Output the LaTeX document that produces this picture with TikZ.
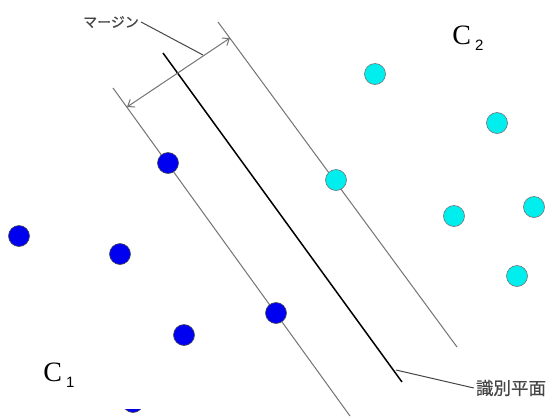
\documentclass[tikz,border=0pt]{standalone}
\usepackage{fontspec}
\setmainfont{Liberation Serif}
\newfontfamily\jpfont[FakeBold=0.6]{Noto Sans CJK JP}
\newfontfamily\subsans{Liberation Sans}
\usetikzlibrary{arrows.meta}
\definecolor{dotblue}{RGB}{0,0,240}
\definecolor{dotcyan}{RGB}{0,238,238}
\definecolor{linegray}{RGB}{115,115,115}
\definecolor{textgray}{RGB}{70,70,70}
\begin{document}
\begin{tikzpicture}[x=1pt,y=-1pt,
  bluedot/.style={circle,fill=dotblue,draw=black!70,line width=0.6pt,minimum size=21pt,inner sep=0pt},
  cyandot/.style={circle,fill=dotcyan,draw=black!55,line width=0.6pt,minimum size=21pt,inner sep=0pt},
  marginline/.style={draw=linegray,line width=1pt},
  planeline/.style={draw=black,line width=1.5pt},
  leader/.style={draw=textgray,line width=1pt},
  jplabel/.style={text=textgray,inner sep=2pt},
  classlabel/.style={inner sep=0pt,font=\fontsize{28}{28}\selectfont}
]
\useasboundingbox[fill=white] (0,0) rectangle (550,416);
% lines
\coordinate (L1) at (113,88);  \coordinate (L2) at (350,416);
\coordinate (M1) at (163,53);  \coordinate (M2) at (402,382);
\coordinate (R1) at (218,22);  \coordinate (R2) at (457,347);
\draw[marginline] (L1) -- (L2);
\draw[marginline] (R1) -- (R2);
\draw[planeline] (M1) -- (M2);
% margin arrow
\coordinate (A1) at (127,107);
\coordinate (A2) at (230,38);
\draw[marginline,{Straight Barb[length=6pt,width=9pt]}-{Straight Barb[length=6pt,width=9pt]}] (A1) -- (A2);
\coordinate (mA) at (203,55);
\coordinate (pA) at (396,370);
% labels
\node[jplabel,font=\jpfont\fontsize{14}{14}\selectfont] (mlabel) at (111,22) {マージン};
\draw[leader] (mlabel.east) -- (mA);
\node[jplabel,font=\jpfont\fontsize{17.5}{17.5}\selectfont] (plabel) at (511,388) {識別平面};
\draw[leader] (pA) -- (plabel.west);
\node[classlabel] (c2) at (468,38) {C\hspace{4pt}\raisebox{-6pt}{\subsans\fontsize{15}{15}\selectfont 2}};
\node[classlabel] (c1) at (59,375) {C\hspace{4pt}\raisebox{-6pt}{\subsans\fontsize{15}{15}\selectfont 1}};
% blue dots
\node[bluedot] (b1) at (19,236) {};
\node[bluedot] (b2) at (120,254) {};
\node[bluedot] (b3) at (168,163) {};
\node[bluedot] (b4) at (184,335) {};
\node[bluedot] (b5) at (276,313) {};
% cyan dots
\node[cyandot] (c2a) at (375,74) {};
\node[cyandot] (c2b) at (497,123) {};
\node[cyandot] (c2c) at (336,180) {};
\node[cyandot] (c2d) at (454,216) {};
\node[cyandot] (c2e) at (534,207) {};
\node[cyandot] (c2f) at (517,276) {};
% partially hidden dot at bottom
\begin{scope}
\clip (120,409) rectangle (146,416);
\node[bluedot] (b6) at (133,402) {};
\end{scope}
\end{tikzpicture}
\end{document}
